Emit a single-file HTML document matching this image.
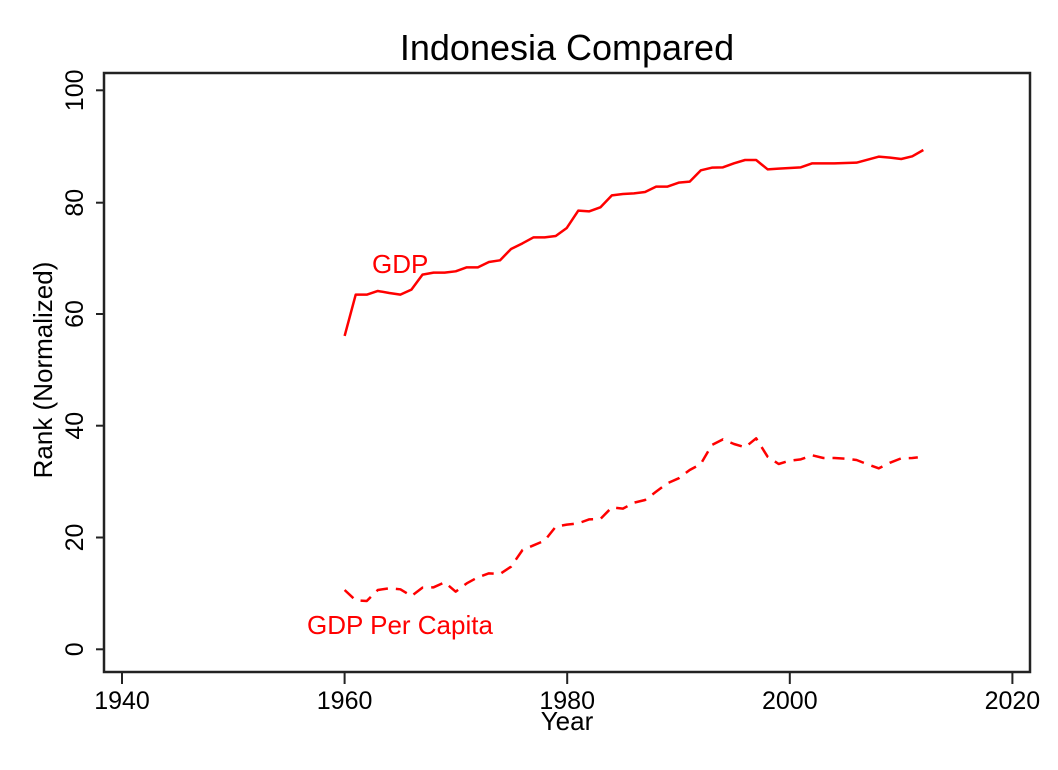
<!DOCTYPE html>
<html><head><meta charset="utf-8"><style>
html,body{margin:0;padding:0;background:#fff}
svg{display:block;font-family:"Liberation Sans",Arial,sans-serif}
</style></head><body>
<svg width="1058" height="770" viewBox="0 0 1058 770">
<rect x="0" y="0" width="1058" height="770" fill="#fff"/>
<text x="567" y="60" font-size="36" text-anchor="middle" fill="#000">Indonesia Compared</text>
<rect x="104" y="73" width="926" height="599" fill="none" stroke="#222" stroke-width="2.5"/>
<g stroke="#222" stroke-width="2">
<line x1="96" y1="90.3" x2="104" y2="90.3"/><line x1="96" y1="202.7" x2="104" y2="202.7"/>
<line x1="96" y1="314" x2="104" y2="314"/><line x1="96" y1="425.7" x2="104" y2="425.7"/>
<line x1="96" y1="537.5" x2="104" y2="537.5"/><line x1="96" y1="649.3" x2="104" y2="649.3"/>
<line x1="122" y1="672" x2="122" y2="684"/><line x1="344.6" y1="672" x2="344.6" y2="684"/>
<line x1="567.2" y1="672" x2="567.2" y2="684"/><line x1="789.8" y1="672" x2="789.8" y2="684"/>
<line x1="1012.4" y1="672" x2="1012.4" y2="684"/>
</g>
<g font-size="25" fill="#000" text-anchor="middle">
<text transform="translate(83,90.3) rotate(-90)">100</text>
<text transform="translate(83,202.7) rotate(-90)">80</text>
<text transform="translate(83,314) rotate(-90)">60</text>
<text transform="translate(83,425.7) rotate(-90)">40</text>
<text transform="translate(83,537.5) rotate(-90)">20</text>
<text transform="translate(83,649.3) rotate(-90)">0</text>
<text x="122" y="709">1940</text><text x="344.6" y="709">1960</text>
<text x="567.2" y="709">1980</text><text x="789.8" y="709">2000</text>
<text x="1012.4" y="709">2020</text>
<text x="567" y="730" font-size="26">Year</text>
<text transform="translate(52,370) rotate(-90)" font-size="26">Rank (Normalized)</text>
</g>
<g fill="none" stroke="#ff0000" stroke-width="2.5" stroke-linejoin="round">
<g transform="translate(330,140) scale(0.3953,0.3333)">
<polyline vector-effect="non-scaling-stroke" points="37,588 65,464 93,464 121,453 150,459 178,464 206,449 234,404 262,398 290,398 318,394 346,382 374,382 402,366 430,361 458,327 487,310 515,292 543,292 571,288 599,264 628,212 656,214 684,202 713,166 741,162 769,160 797,156 825,140 853,140 882,128 910,125 938,91 966,83 994,82 1022,70 1050,60 1078,60 1107,88 1135,86 1163,84 1191,82 1220,70 1248,70 1276,70 1304,69 1332,68 1360,59 1388,50 1417,53 1445,57 1473,49 1501,30"/>
</g>
<g transform="translate(330,420) scale(0.3953,0.3333)">
<polyline vector-effect="non-scaling-stroke" stroke-dasharray="12 8" points="37,510 65,541 93,543 121,510 150,505 178,508 206,528 234,503 262,502 290,487 318,515 346,490 374,472 402,460 430,462 458,440 487,390 515,376 543,362 571,320 599,314 628,310 656,298 684,297 713,262 741,266 769,248 797,240 825,215 853,190 882,175 910,150 938,132 966,75 994,58 1022,72 1050,82 1078,55 1107,110 1135,132 1163,122 1191,118 1220,106 1248,114 1276,114 1304,116 1332,120 1360,133 1388,145 1417,128 1445,115 1473,114 1487,112"/>
</g>
</g>
<g font-size="26" fill="#ff0000">
<text x="372" y="273">GDP</text>
<text x="307" y="634">GDP Per Capita</text>
</g>
</svg>
</body></html>
